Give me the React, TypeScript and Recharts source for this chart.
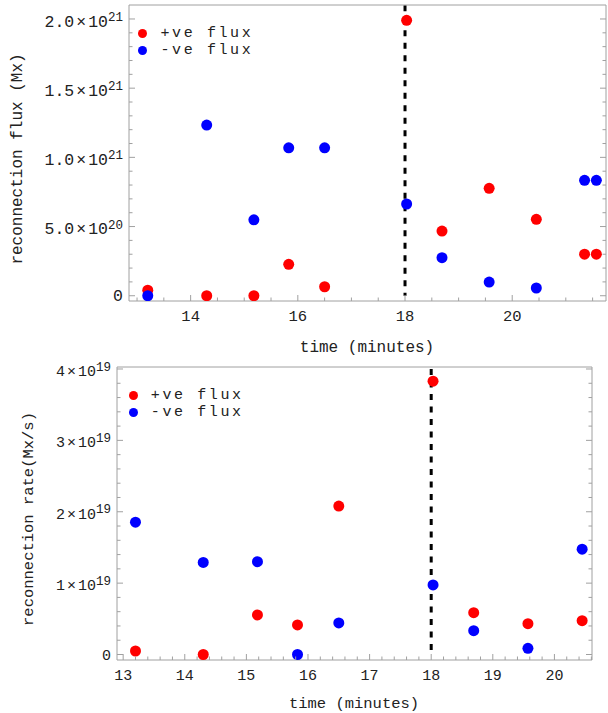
import React from 'react';
import { ScatterChart, Scatter, XAxis, YAxis, ReferenceLine, Legend } from 'recharts';

// frame times (minutes)
const times = [13.2, 14.3, 15.18, 15.83, 16.5, 18.03, 18.69, 19.57, 20.45, 21.35, 21.57];

// reconnection flux (Mx)
const fluxPos = [4.0e19, 0, 0, 2.27e20, 6.5e19, 1.99e21, 4.67e20, 7.76e20, 5.52e20, 3.0e20, 3.0e20];
const fluxNeg = [0, 1.233e21, 5.49e20, 1.069e21, 1.069e21, 6.63e20, 2.75e20, 9.9e19, 5.6e19, 8.34e20, 8.34e20];

// reconnection rate (Mx/s), first nine frames only
const ratePos = [4.9e17, 0, 5.54e18, 4.14e18, 2.08e19, 3.83e19, 5.86e18, 4.32e18, 4.74e18];
const rateNeg = [1.854e19, 1.29e19, 1.3e19, 0, 4.42e18, 9.75e18, 3.34e18, 8.7e17, 1.475e19];

const eventTime = 18;

// axis ticks
const fluxXMajor = [14, 16, 18, 20];
const fluxYMajor = [0, 5e20, 1e21, 1.5e21, 2e21];
const fluxYLabels = ['0', '5.0×10^20', '1.0×10^21', '1.5×10^21', '2.0×10^21'];
const rateXMajor = [13, 14, 15, 16, 17, 18, 19, 20];
const rateYMajor = [0, 1e19, 2e19, 3e19, 4e19];
const rateYLabels = ['0', '1×10^19', '2×10^19', '3×10^19', '4×10^19'];

const RED = '#ff0000';
const BLUE = '#0000ff';
const FRAME = '#a0a0a0';
const INK = '#222222';
const MONO = '"Liberation Mono", "DejaVu Sans Mono", monospace';

const steps = (from: number, to: number, step: number) =>
  Array.from({ length: Math.round((to - from) / step) + 1 }, (_, i) => +(from + i * step).toPrecision(12));

const fluxXTicks = steps(13, 21.5, 0.5);
const fluxYTicks = steps(0, 2e21, 1e20);
const rateXTicks = steps(13, 20.6, 0.2);
const rateYTicks = steps(0, 4e19, 2e18);

const points = (ys: number[]) => ys.map((v, i) => ({ t: times[i], v }));

function SciLabel({ x, y, label, size, supSize, anchor }: any) {
  const [base, exp] = label.split('^');
  if (!exp) {
    return (
      <text x={x} y={y + size * 0.34} textAnchor={anchor} fontFamily={MONO} fontSize={size} fill={INK}>
        {base}
      </text>
    );
  }
  const [mant, ten] = base.split('×');
  return (
    <text x={x} y={y + size * 0.34 + 2} textAnchor={anchor} fontFamily={MONO} fontSize={size} fill={INK}>
      <tspan>{mant}</tspan>
      <tspan dx={2}>×</tspan>
      <tspan dx={2}>{ten}</tspan>
      <tspan dy={-5.5} fontSize={supSize}>{exp}</tspan>
    </text>
  );
}

// Mathematica-style frame tick: points inward, only major ticks get a label
function FrameTick(props: any) {
  const { x, y, payload, side, majors, labels, size = 15, supSize = 12 } = props;
  const v = payload.value;
  const idx = majors ? majors.findIndex((m: number) => Math.abs(m - v) <= 1e-9 * Math.max(1, Math.abs(m))) : -1;
  const len = idx >= 0 ? 6 : 3.5;
  let line;
  if (side === 'bottom') line = <line x1={x} x2={x} y1={y} y2={y - len} stroke={FRAME} />;
  else if (side === 'top') line = <line x1={x} x2={x} y1={y} y2={y + len} stroke={FRAME} />;
  else if (side === 'left') line = <line x1={x} x2={x + len} y1={y} y2={y} stroke={FRAME} />;
  else line = <line x1={x} x2={x - len} y1={y} y2={y} stroke={FRAME} />;
  return (
    <g>
      {line}
      {idx >= 0 && side === 'bottom' && labels && (
        <text x={x} y={y + 20} textAnchor="middle" fontFamily={MONO} fontSize={size} fill={INK}>
          {labels[idx]}
        </text>
      )}
      {idx >= 0 && side === 'left' && labels && (
        <SciLabel x={x - 6} y={y} label={labels[idx]} size={size} supSize={supSize} anchor="end" />
      )}
    </g>
  );
}

function FluxLegend({ payload, gap }: any) {
  return (
    <div style={{ fontFamily: MONO, fontSize: 15, letterSpacing: 2.6, color: INK }}>
      {(payload || []).map((e: any) => (
        <div key={e.value} style={{ display: 'flex', alignItems: 'center', height: 17, lineHeight: '17px' }}>
          <span style={{ width: 9, height: 9, borderRadius: '50%', background: e.color, marginRight: gap }} />
          <span style={{ whiteSpace: 'pre' }}>{e.value}</span>
        </div>
      ))}
    </div>
  );
}

const dot = (color: string) => (p: any) => <circle cx={p.cx} cy={p.cy} r={5.5} fill={color} />;

function Title({ text, cx, cy, size, vertical }: any) {
  return (
    <div
      style={{
        position: 'absolute',
        left: cx,
        top: cy,
        transform: `translate(-50%, -50%)${vertical ? ' rotate(-90deg)' : ''}`,
        fontFamily: MONO,
        fontSize: size,
        lineHeight: 1,
        color: INK,
        whiteSpace: 'pre',
      }}
    >
      {text}
    </div>
  );
}

export default function App() {
  const tick = (side: string, majors: number[], labels?: string[], size?: number, supSize?: number) =>
    (p: any) => <FrameTick {...p} side={side} majors={majors} labels={labels} size={size} supSize={supSize} />;

  return (
    <div style={{ position: 'absolute', left: 0, top: 0, width: 608, height: 713, background: '#fff' }}>
      <div style={{ position: 'absolute', left: 0, top: 0 }}>
        <ScatterChart width={608} height={360} margin={{ top: 0, right: 0, bottom: 0, left: 0 }}>
          <XAxis
            xAxisId="b" dataKey="t" type="number" domain={[12.85, 21.75]} allowDataOverflow
            ticks={fluxXTicks} interval={0} height={59} tickSize={0} tickMargin={0}
            axisLine={{ stroke: FRAME }} tickLine={false}
            tick={tick('bottom', fluxXMajor, fluxXMajor.map(String), 15.5)}
          />
          <XAxis
            xAxisId="t" orientation="top" type="number" domain={[12.85, 21.75]} allowDataOverflow
            ticks={fluxXTicks} interval={0} height={5} tickSize={0} tickMargin={0}
            axisLine={{ stroke: FRAME }} tickLine={false}
            tick={tick('top', fluxXMajor)}
          />
          <YAxis
            yAxisId="l" dataKey="v" type="number" domain={[-3.8e19, 2.101e21]} allowDataOverflow
            ticks={fluxYTicks} interval={0} width={129} tickSize={0} tickMargin={0}
            axisLine={{ stroke: FRAME }} tickLine={false}
            tick={tick('left', fluxYMajor, fluxYLabels, 16.5, 12.5)}
          />
          <YAxis
            yAxisId="r" orientation="right" type="number" domain={[-3.8e19, 2.101e21]} allowDataOverflow
            ticks={fluxYTicks} interval={0} width={2} tickSize={0} tickMargin={0}
            axisLine={{ stroke: FRAME }} tickLine={false}
            tick={tick('right', fluxYMajor)}
          />
          <ReferenceLine
            xAxisId="b" yAxisId="l"
            segment={[{ x: eventTime, y: 2.1e21 }, { x: eventTime, y: 0 }]}
            stroke="#000" strokeWidth={3} strokeDasharray="6 6.5"
          />
          <Scatter name="+ve flux" xAxisId="b" yAxisId="l" data={points(fluxPos)} fill={RED} shape={dot(RED)} isAnimationActive={false} />
          <Scatter name="-ve flux" xAxisId="b" yAxisId="l" data={points(fluxNeg)} fill={BLUE} shape={dot(BLUE)} isAnimationActive={false} />
          <Legend
            layout="vertical" align="center" verticalAlign="middle"
            wrapperStyle={{ left: 137.5, top: 25, width: 200, height: 34 }}
            content={(p: any) => <FluxLegend {...p} gap={14} />}
          />
        </ScatterChart>
        <Title text="reconnection flux (Mx)" cx={18} cy={159} size={16} vertical />
        <Title text="time (minutes)" cx={367} cy={348} size={16} />
      </div>

      <div style={{ position: 'absolute', left: 0, top: 360 }}>
        <ScatterChart width={608} height={353} margin={{ top: 0, right: 0, bottom: 0, left: 0 }}>
          <XAxis
            xAxisId="b" dataKey="t" type="number" domain={[12.9, 20.61]} allowDataOverflow
            ticks={rateXTicks} interval={0} height={53} tickSize={0} tickMargin={0}
            axisLine={{ stroke: FRAME }} tickLine={false}
            tick={tick('bottom', rateXMajor, rateXMajor.map(String), 15)}
          />
          <XAxis
            xAxisId="t" orientation="top" type="number" domain={[12.9, 20.61]} allowDataOverflow
            ticks={rateXTicks} interval={0} height={7} tickSize={0} tickMargin={0}
            axisLine={{ stroke: FRAME }} tickLine={false}
            tick={tick('top', rateXMajor)}
          />
          <YAxis
            yAxisId="l" dataKey="v" type="number" domain={[-7.7e17, 4.028e19]} allowDataOverflow
            ticks={rateYTicks} interval={0} width={117} tickSize={0} tickMargin={0}
            axisLine={{ stroke: FRAME }} tickLine={false}
            tick={tick('left', rateYMajor, rateYLabels, 15, 12.5)}
          />
          <YAxis
            yAxisId="r" orientation="right" type="number" domain={[-7.7e17, 4.028e19]} allowDataOverflow
            ticks={rateYTicks} interval={0} width={16} tickSize={0} tickMargin={0}
            axisLine={{ stroke: FRAME }} tickLine={false}
            tick={tick('right', rateYMajor)}
          />
          <ReferenceLine
            xAxisId="b" yAxisId="l"
            segment={[{ x: eventTime, y: 4e19 }, { x: eventTime, y: 0 }]}
            stroke="#000" strokeWidth={3} strokeDasharray="6 6.5"
          />
          <Scatter name="+ve flux" xAxisId="b" yAxisId="l" data={points(ratePos)} fill={RED} shape={dot(RED)} isAnimationActive={false} />
          <Scatter name="-ve flux" xAxisId="b" yAxisId="l" data={points(rateNeg)} fill={BLUE} shape={dot(BLUE)} isAnimationActive={false} />
          <Legend
            layout="vertical" align="center" verticalAlign="middle"
            wrapperStyle={{ left: 128.8, top: 27, width: 200, height: 34 }}
            content={(p: any) => <FluxLegend {...p} gap={13} />}
          />
        </ScatterChart>
        <Title text="reconnection rate(Mx/s)" cx={30} cy={159} size={15.5} vertical />
        <Title text="time (minutes)" cx={354} cy={345} size={15.5} />
      </div>
    </div>
  );
}
